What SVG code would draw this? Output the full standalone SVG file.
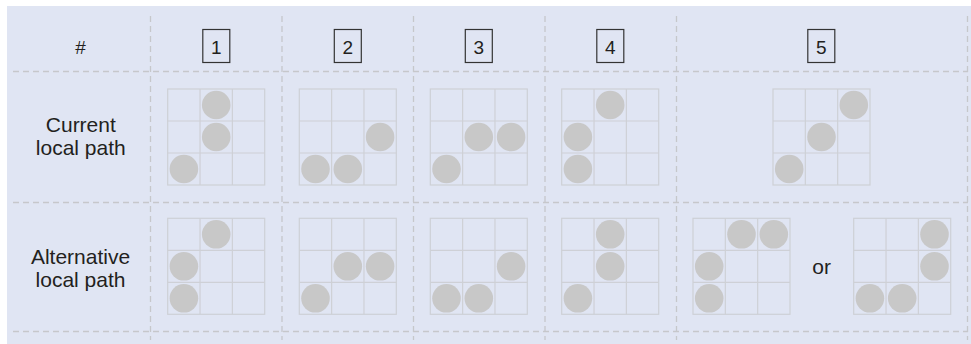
<svg xmlns="http://www.w3.org/2000/svg" xmlns:xlink="http://www.w3.org/1999/xlink" width="971" height="344" viewBox="0 0 971 344">
<style>
.bg{fill:#e0e5f3}
.dash{stroke:#c6c7cb;stroke-width:1.3;stroke-dasharray:6 4;fill:none}
.gl{fill:none;stroke:#ced0d6;stroke-width:1.2}
.dot{fill:#c8c8c8}
.t{font-family:"Liberation Sans",Arial,sans-serif;font-size:21px;fill:#231f20;text-anchor:middle}
.h{font-family:"Liberation Sans",Arial,sans-serif;font-size:19px;fill:#231f20;text-anchor:middle}
.box{fill:none;stroke:#333333;stroke-width:1.2}
</style>
<defs>
<g id="grid">
<rect class="gl" x="0" y="0" width="97" height="96"/>
<path class="gl" d="M32.33 0V96M64.67 0V96M0 32H97M0 64H97"/>
</g>
</defs>
<rect class="bg" x="7" y="6" width="964" height="338"/>
<g id="connectors">
<path class="dash" d="M13 71.5H968M13 202.5H968M13 331.5H968"/>
<path class="dash" d="M150.5 16V340M282 16V340M413.5 16V340M545 16V340M676.5 16V340M967.5 16V340"/>
</g>
<g id="header">
<text class="h" x="80.5" y="53.5">#</text>
<rect class="box" x="202.8" y="29.5" width="27" height="33"/><text class="h" x="216.3" y="53.5">1</text>
<rect class="box" x="334.3" y="29.5" width="27" height="33"/><text class="h" x="347.8" y="53.5">2</text>
<rect class="box" x="465.3" y="29.5" width="27" height="33"/><text class="h" x="478.8" y="53.5">3</text>
<rect class="box" x="596.8" y="29.5" width="27" height="33"/><text class="h" x="610.3" y="53.5">4</text>
<rect class="box" x="807.8" y="29.5" width="27" height="33"/><text class="h" x="821.3" y="53.5">5</text>
</g>
<g id="label-current"><text class="t" x="80.8" y="131.5">Current</text><text class="t" x="80.8" y="154.5">local path</text></g>
<g id="label-alternative"><text class="t" x="80.5" y="263.5">Alternative</text><text class="t" x="80.5" y="286.5">local path</text></g>
<g id="cur1" transform="translate(167.7,89)"><use xlink:href="#grid"/><circle class="dot" cx="48.5" cy="16" r="14.3"/><circle class="dot" cx="48.5" cy="48" r="14.3"/><circle class="dot" cx="16.2" cy="80" r="14.3"/></g>
<g id="cur2" transform="translate(299.3,89)"><use xlink:href="#grid"/><circle class="dot" cx="80.8" cy="48" r="14.3"/><circle class="dot" cx="16.2" cy="80" r="14.3"/><circle class="dot" cx="48.5" cy="80" r="14.3"/></g>
<g id="cur3" transform="translate(430.3,89)"><use xlink:href="#grid"/><circle class="dot" cx="48.5" cy="48" r="14.3"/><circle class="dot" cx="80.8" cy="48" r="14.3"/><circle class="dot" cx="16.2" cy="80" r="14.3"/></g>
<g id="cur4" transform="translate(561.7,89)"><use xlink:href="#grid"/><circle class="dot" cx="48.5" cy="16" r="14.3"/><circle class="dot" cx="16.2" cy="48" r="14.3"/><circle class="dot" cx="16.2" cy="80" r="14.3"/></g>
<g id="cur5" transform="translate(773,89)"><use xlink:href="#grid"/><circle class="dot" cx="80.8" cy="16" r="14.3"/><circle class="dot" cx="48.5" cy="48" r="14.3"/><circle class="dot" cx="16.2" cy="80" r="14.3"/></g>
<g id="alt1" transform="translate(167.7,218.3)"><use xlink:href="#grid"/><circle class="dot" cx="48.5" cy="16" r="14.3"/><circle class="dot" cx="16.2" cy="48" r="14.3"/><circle class="dot" cx="16.2" cy="80" r="14.3"/></g>
<g id="alt2" transform="translate(299.3,218.3)"><use xlink:href="#grid"/><circle class="dot" cx="48.5" cy="48" r="14.3"/><circle class="dot" cx="80.8" cy="48" r="14.3"/><circle class="dot" cx="16.2" cy="80" r="14.3"/></g>
<g id="alt3" transform="translate(430.3,218.3)"><use xlink:href="#grid"/><circle class="dot" cx="80.8" cy="48" r="14.3"/><circle class="dot" cx="16.2" cy="80" r="14.3"/><circle class="dot" cx="48.5" cy="80" r="14.3"/></g>
<g id="alt4" transform="translate(561.7,218.3)"><use xlink:href="#grid"/><circle class="dot" cx="48.5" cy="16" r="14.3"/><circle class="dot" cx="48.5" cy="48" r="14.3"/><circle class="dot" cx="16.2" cy="80" r="14.3"/></g>
<g id="alt5a" transform="translate(693,218.3)"><use xlink:href="#grid"/><circle class="dot" cx="48.5" cy="16" r="14.3"/><circle class="dot" cx="80.8" cy="16" r="14.3"/><circle class="dot" cx="16.2" cy="48" r="14.3"/><circle class="dot" cx="16.2" cy="80" r="14.3"/></g>
<g id="or-label"><text class="t" x="821.7" y="274">or</text></g>
<g id="alt5b" transform="translate(853.7,218.3)"><use xlink:href="#grid"/><circle class="dot" cx="80.8" cy="16" r="14.3"/><circle class="dot" cx="80.8" cy="48" r="14.3"/><circle class="dot" cx="16.2" cy="80" r="14.3"/><circle class="dot" cx="48.5" cy="80" r="14.3"/></g>
</svg>
